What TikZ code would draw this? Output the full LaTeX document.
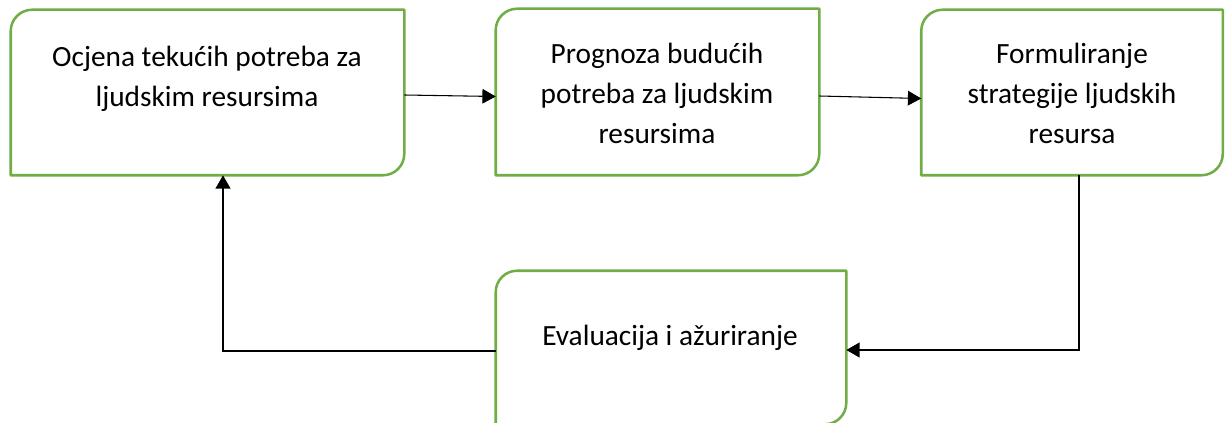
\documentclass[tikz,border=0pt]{standalone}
\usepackage{fontspec}
\setmainfont{Carlito}
\usetikzlibrary{arrows.meta,calc}
\definecolor{boxgreen}{HTML}{70AD47}
\tikzset{
  box/.style={draw=none,inner sep=0pt},
  boxline/.style={draw=boxgreen,line width=1.9pt,line join=round},
  lbl/.style={align=center,font=\fontsize{22}{30}\selectfont,inner sep=0pt},
  thinarrow/.style={draw=black,line width=0.8pt,-{Triangle[length=10pt,width=11pt]}},
  looparrow/.style={draw=black,line width=1.5pt,-{Triangle[length=10pt,width=11pt]}},
}
\newcommand{\roundbox}[1]{%
  \draw[boxline] (#1.south west) -- ([yshift=-16pt]#1.north west)
    arc[start angle=180,end angle=90,radius=16pt] -- (#1.north east)
    -- ([yshift=16pt]#1.south east)
    arc[start angle=0,end angle=-90,radius=16pt] -- cycle;}
\begin{document}
\begin{tikzpicture}[x=0.75pt,y=0.75pt]
\useasboundingbox (0,0) rectangle (1225,422);
\begin{scope}
\clip (0,0) rectangle (1225,422);
% boxes
\node[box,minimum width=393*0.75pt,minimum height=165*0.75pt] (b1) at (207.5,329.5) {};
\node[box,minimum width=323*0.75pt,minimum height=166*0.75pt] (b2) at (657.5,330) {};
\node[box,minimum width=301*0.75pt,minimum height=165*0.75pt] (b3) at (1072,329.5) {};
\node[box,minimum width=350*0.75pt,minimum height=153*0.75pt] (b4) at (671,74.5) {};
\roundbox{b1}
\roundbox{b2}
\roundbox{b3}
\roundbox{b4}
\end{scope}
% labels
\node[lbl] (t1) at (207,343) {Ocjena tekućih potreba za\\ljudskim resursima};
\node[lbl] (t2) at (657,329) {Prognoza budućih\\potreba za ljudskim\\resursima};
\node[lbl] (t3) at (1072,329) {Formuliranje\\strategije ljudskih\\resursa};
\node[lbl] (t4) at (670,84) {Evaluacija i ažuriranje};
% connectors
\draw[thinarrow] ($(b1.east)+(0,-2.5)$) -- ($(b2.west)+(0,-4.5)$);
\draw[thinarrow] ($(b2.east)+(0,-4)$) -- ($(b3.west)+(0,-6)$);
\coordinate (c1) at ($(b3.south)+(7,0)$);
\draw[looparrow] (c1) |- ($(b4.east)+(0,-2.5)$);
\coordinate (c2) at ($(b1.south)+(15.5,0)$);
\draw[looparrow] ($(b4.west)+(0,-3.5)$) -| (c2);
\end{tikzpicture}
\end{document}
